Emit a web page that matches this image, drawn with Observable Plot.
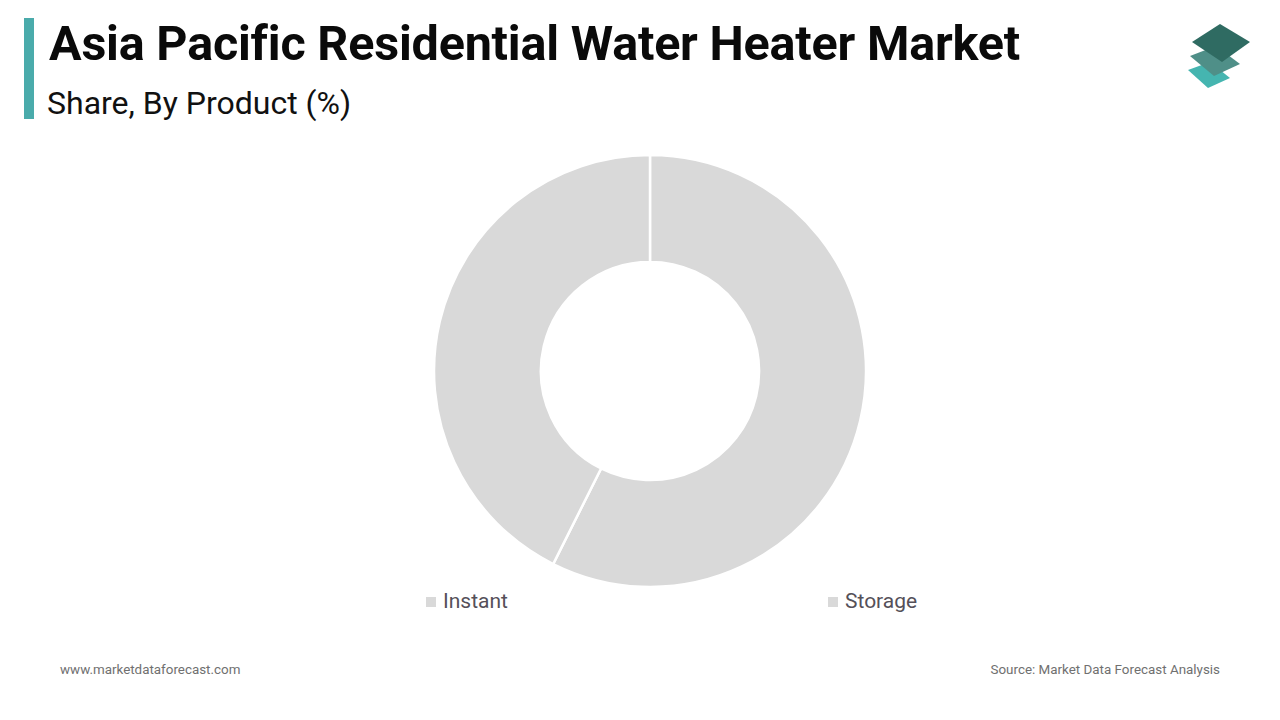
<!DOCTYPE html>
<html>
<head>
<meta charset="utf-8">
<script src="https://cdn.jsdelivr.net/npm/d3@7"></script>
<script src="https://cdn.jsdelivr.net/npm/@observablehq/plot@0.6"></script>
<style>
  html, body { margin: 0; padding: 0; background: #ffffff; }
  body { width: 1280px; height: 720px; position: relative; overflow: hidden; font-family: Roboto, "Noto Sans", sans-serif; }
  #chart { position: absolute; left: 0; top: 0; }
  .abs { position: absolute; white-space: nowrap; }
  #bar { left: 24px; top: 18px; width: 10px; height: 101px; background: #4aabab; }
  #title { left: 49px; top: 14px; font-size: 48.5px; font-weight: 700; color: #0a0a0a; line-height: 60px; letter-spacing: -0.2px; }
  #subtitle { left: 47px; top: 83px; font-size: 32px; color: #111; line-height: 40px; }
  .leg { font-size: 21px; color: #555059; line-height: 24px; }
  .sw { display: inline-block; width: 10px; height: 10px; background: #d9d9d9; margin-right: 7px; vertical-align: 1px; }
  .foot { font-size: 13.4px; color: #707070; line-height: 16px; top: 662px; }
</style>
</head>
<body>
<div id="chart"></div>
<div id="bar" class="abs"></div>
<div id="title" class="abs">Asia Pacific Residential Water Heater Market</div>
<div id="subtitle" class="abs">Share, By Product (%)</div>
<div id="legend"></div>
<div class="abs foot" style="left:60px;">www.marketdataforecast.com</div>
<div class="abs foot" style="right:60px;">Source: Market Data Forecast Analysis</div>
<svg class="abs" style="left:1180px; top:18px;" width="80" height="80" viewBox="0 0 80 80">
  <polygon points="8,52 30,44 50,60 28,70" fill="#45b5b0"/>
  <polygon points="10,38 36,28 60,46 34,58" fill="#4f8f88"/>
  <polygon points="12,24 40,6 70,24 42,44" fill="#2f6b62"/>
</svg>
<script>
const categories = ["Instant", "Storage"];
const shares = [42.6, 57.4];
const sliceOrder = ["Storage", "Instant"]; // clockwise from 12 o'clock
const innerRatio = 0.505;

const data = sliceOrder.map(c => ({category: c, value: shares[categories.indexOf(c)]}));
const pie = d3.pie().sort(null).value(d => d.value)(data);

const sliceMark = (index, scales, values, dimensions) => {
  const x = scales.x, y = scales.y;
  const cx = x(0), cy = y(0);
  const R = x(1) - x(0);
  const arc = d3.arc().outerRadius(R).innerRadius(R * innerRatio);
  const g = d3.create("svg:g").attr("transform", `translate(${cx},${cy})`);
  g.selectAll("path").data(pie).join("path")
    .attr("d", arc)
    .attr("fill", "#d9d9d9")
    .attr("stroke", "#ffffff")
    .attr("stroke-width", 2.5)
    .attr("stroke-linejoin", "miter");
  return g.node();
};

const plot = Plot.plot({
  width: 1280,
  height: 720,
  marginLeft: 434,
  marginRight: 414,
  marginTop: 155,
  marginBottom: 133,
  x: {domain: [-1, 1], axis: null},
  y: {domain: [-1, 1], axis: null},
  style: {background: "transparent"},
  marks: [sliceMark]
});
document.getElementById("chart").appendChild(plot);

const legendPos = {"Instant": 426, "Storage": 828};
const legend = document.getElementById("legend");
categories.forEach(c => {
  const d = document.createElement("div");
  d.className = "abs leg";
  d.style.left = legendPos[c] + "px";
  d.style.top = "589px";
  d.innerHTML = `<span class="sw"></span>${c}`;
  legend.appendChild(d);
});
</script>
</body>
</html>
